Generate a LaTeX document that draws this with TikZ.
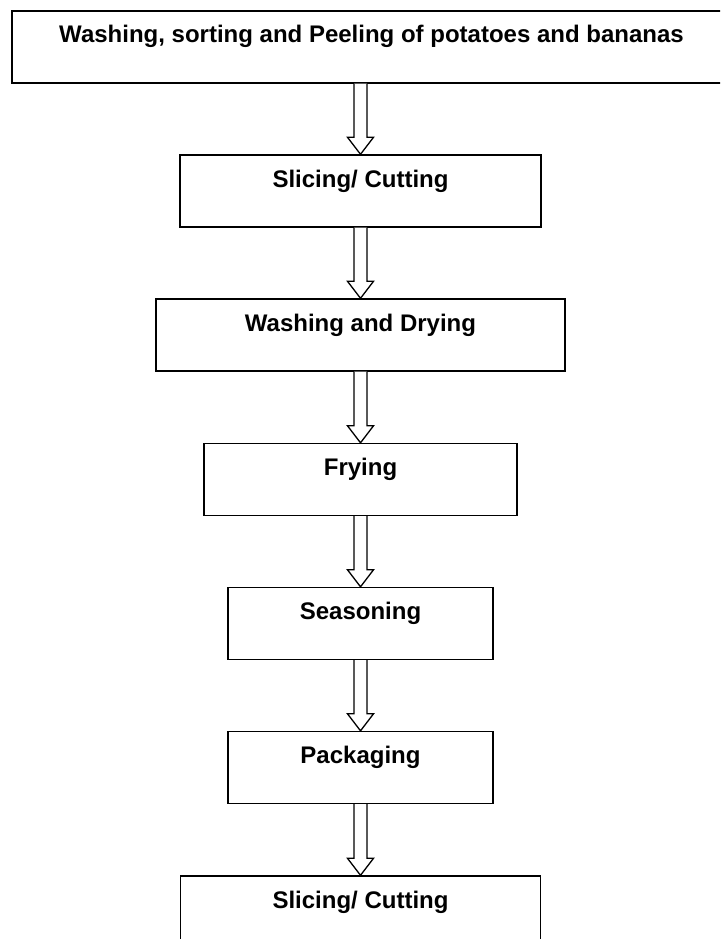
\documentclass[tikz,border=0pt]{standalone}
\usepackage{fontspec}
\setmainfont{Liberation Sans}
\usetikzlibrary{calc}

\tikzset{
  stage/.style={draw, line width=1.4pt, inner sep=0pt, minimum height=72pt,
    text height=32pt, text depth=40pt,
    font=\bfseries\fontsize{24}{28}\selectfont},
  hollow/.style={draw, fill=white, line width=1.3pt, line join=miter}
}
% open block arrow from the bottom of one stage to the top of the next
\newcommand{\hollowarrow}[2]{%
  \draw[hollow] let \p1=(#1.south), \p2=(#2.north) in
    (\x2-6.5pt,\y1) -- (\x2-6.5pt,\y2+17pt) -- (\x2-13pt,\y2+17pt) -- (\x2,\y2)
    -- (\x2+13pt,\y2+17pt) -- (\x2+6.5pt,\y2+17pt) -- (\x2+6.5pt,\y1);}

\begin{document}
\begin{tikzpicture}[x=1pt,y=-1pt]
		\path[use as bounding box, clip](0,0) rectangle (720,939);
		\node[stage, minimum width=719pt] (wash) at (371.5,47) {Washing, sorting and Peeling of potatoes and bananas};
		\node[stage, minimum width=361pt] (slice) at (360.5,191) {Slicing/ Cutting};
		\node[stage, minimum width=409pt] (dry) at (360.5,335) {Washing and Drying};
		\node[stage, minimum width=313pt] (fry) at (360.5,479.5) {Frying};
		\node[stage, minimum width=265pt] (season) at (360.5,623.5) {Seasoning};
		\node[stage, minimum width=265pt] (pack) at (360.5,767.5) {Packaging};
		\node[stage, minimum width=360pt] (cut) at (360.5,912) {Slicing/ Cutting};
		\hollowarrow{wash}{slice}
		\hollowarrow{slice}{dry}
		\hollowarrow{dry}{fry}
		\hollowarrow{fry}{season}
		\hollowarrow{season}{pack}
		\hollowarrow{pack}{cut}
\end{tikzpicture}
\end{document}
